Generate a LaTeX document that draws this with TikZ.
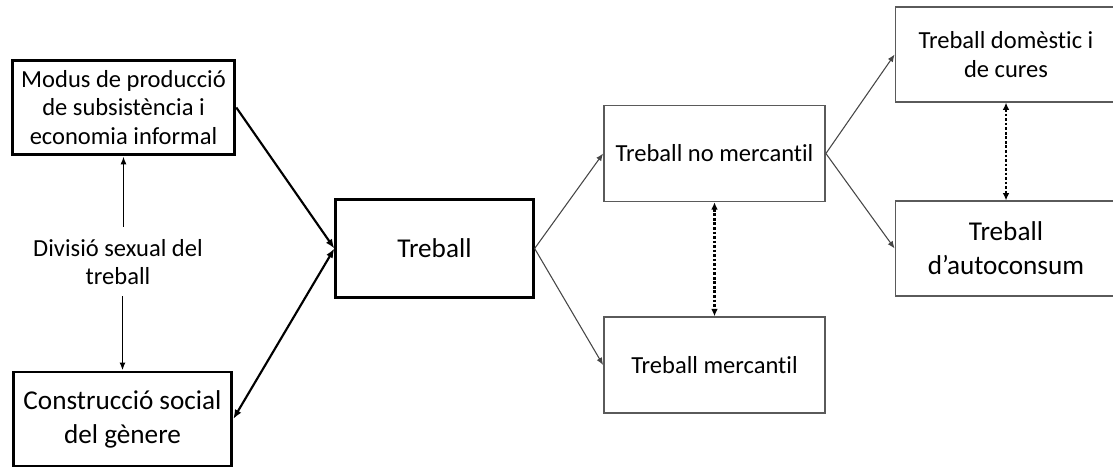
\documentclass[tikz,border=0pt]{standalone}
\usepackage{fontspec}
\setmainfont{Carlito}[Ligatures=NoCommon]
\usetikzlibrary{arrows.meta}

\definecolor{boxgray}{RGB}{90,90,90}
\definecolor{linegray}{RGB}{70,70,70}

\tikzset{
    smalltext/.style={font=\fontsize{18.4}{21.6}\selectfont},
    largetext/.style={font=\fontsize{20.4}{25.5}\selectfont},
    thickbox/.style={draw, line width=2.2pt, align=center, inner sep=0pt},
    thinbox/.style={draw=boxgray, line width=1.1pt, align=center, inner sep=0pt,
        minimum width=166pt, minimum height=72pt},
    boldarrow/.style={line width=1.6pt, -{Latex[length=7pt,width=5.5pt]}},
    lightarrow/.style={draw=linegray, line width=0.8pt, -{Latex[length=5.5pt,width=4.5pt]}},
    leftarrow/.style={line width=1.2pt, -{Latex[length=6pt,width=4.5pt]}},
    dotarrow/.style={line width=2pt, dash pattern=on 2pt off 1.4pt,
        {Latex[length=5.5pt,width=5pt]}-{Latex[length=5.5pt,width=5pt]}}
}

\begin{document}
\begin{tikzpicture}[x=0.75pt, y=-0.75pt]
    \useasboundingbox (0,0) rectangle (1113,468);
    \clip (0,0) rectangle (1113,468);

    % LEFT: causes
    \node[thickbox, smalltext, minimum width=167pt, minimum height=71pt] (modus) at (123.5,107.5)
        {Modus de producció\\de subsistència i\\economia informal};
    \node[smalltext, align=center, inner sep=0pt] (divisio) at (118,262)
        {Divisió sexual del\\treball};
    \node[thickbox, largetext, minimum width=164pt, minimum height=70.5pt] (genere) at (122.5,419)
        {Construcció social\\del gènere};

    % CENTRE: work
    \node[thickbox, largetext, minimum width=148pt, minimum height=73pt] (treball) at (434.5,248.5)
        {Treball};

    % RIGHT: kinds of work
    \node[thinbox, smalltext] (nomerc) at (714.5,153.5) {Treball no mercantil};
    \node[thinbox, smalltext] (merc) at (714.5,365) {Treball mercantil};
    \node[thinbox, smalltext, minimum height=71pt] (domestic) at (1006,54.5)
        {Treball domèstic i\\de cures};
    \node[thinbox, largetext, minimum height=71pt] (autoconsum) at (1006,248.5)
        {Treball\\d’autoconsum};

    % Connectors
    \draw[leftarrow] (divisio.north -| modus.south) ++(0,-12) coordinate (divtop)
        (divtop) -- (modus.south);
    \draw[leftarrow] (divisio.south -| genere.north) ++(0,11) coordinate (divbot)
        (divbot) -- (genere.north);
    \draw[boldarrow] (modus.east) -- (treball.west);
    \draw[boldarrow, {Latex[length=7pt,width=5.5pt]}-{Latex[length=7pt,width=5.5pt]}]
        (treball.west) -- (genere.east);
    \draw[lightarrow] (treball.east) -- (nomerc.west);
    \draw[lightarrow] (treball.east) -- (merc.west);
    \draw[lightarrow] (nomerc.east) -- (domestic.west);
    \draw[lightarrow] (nomerc.east) -- (autoconsum.west);
    \draw[dotarrow] (nomerc.south) -- (merc.north);
    \draw[dotarrow] (domestic.south) -- (autoconsum.north);
\end{tikzpicture}
\end{document}
